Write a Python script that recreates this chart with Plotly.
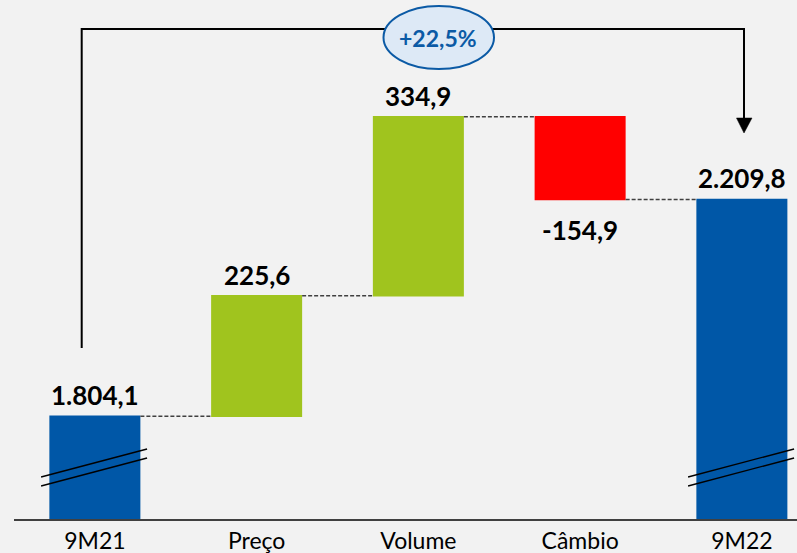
import plotly.graph_objects as go

categories = ["9M21", "Preço", "Volume", "Câmbio", "9M22"]
measures = ["absolute", "relative", "relative", "relative", "total"]
values = [1804.1, 225.6, 334.9, -154.9, 2209.8]
labels = ["1.804,1", "225,6", "334,9", "-154,9", "2.209,8"]
growth_label = "+22,5%"

BLUE = "#0057a7"
GREEN = "#a0c41e"
RED = "#ff0000"
BG = "#f2f2f2"
FONT = "Lato, 'Open Sans', sans-serif"

W, H = 797, 553
ML, MR, MT, MB = 14, 0, 0, 34
PW, PH = W - ML - MR, H - MT - MB
PITCH = 161.75
x_range = [-0.5, -0.5 + PW / PITCH]
y_range = [1611.8, 2583.0]


def px(xp):
    return (xp - ML) / PW


def py(yp):
    return 1 - (yp - MT) / PH


xs = list(range(len(categories)))

fig = go.Figure()
fig.add_trace(go.Waterfall(
    x=xs,
    y=[v if m != "total" else 0 for v, m in zip(values, measures)],
    measure=measures,
    width=[0.5626] * len(xs),
    increasing=dict(marker=dict(color=GREEN, line=dict(width=0))),
    decreasing=dict(marker=dict(color=RED, line=dict(width=0))),
    totals=dict(marker=dict(color=BLUE, line=dict(width=0))),
    connector=dict(line=dict(color="#404040", width=1.6, dash="4px,2px")),
    textinfo="none",
    hoverinfo="skip",
))

# value labels
cum = 0
annotations = []
for i, (m, v, lab) in enumerate(zip(measures, values, labels)):
    if m == "absolute":
        cum = v
    elif m == "relative":
        cum += v
    yv = cum
    if m == "relative" and v < 0:
        shift = -31
    else:
        shift = 21
    annotations.append(dict(
        x=i, y=yv, xref="x", yref="y", text="<b>%s</b>" % lab,
        showarrow=False, yanchor="middle", xanchor="center", yshift=shift,
        font=dict(family=FONT, size=26, color="#000000"),
    ))

shapes = []
# axis break marks on the two total bars
for i in (0, 4):
    for dy in (0, 9):
        shapes.append(dict(
            type="line", xref="x", yref="paper",
            x0=i - 53.8 / PITCH, x1=i + 52.2 / PITCH,
            y0=py(477 + dy), y1=py(449 + dy),
            line=dict(color="#000000", width=1.3),
        ))

# bracket with arrow
shapes.append(dict(
    type="path", xref="paper", yref="paper",
    path="M %f,%f L %f,%f L %f,%f L %f,%f" % (
        px(81.7), py(348), px(81.7), py(29), px(744), py(29), px(744), py(120)),
    line=dict(color="#000000", width=2),
))
shapes.append(dict(
    type="path", xref="paper", yref="paper",
    path="M %f,%f L %f,%f L %f,%f Z" % (
        px(736.5), py(118), px(752), py(118), px(744), py(133)),
    fillcolor="#000000", line=dict(color="#000000", width=0.5),
))
# ellipse
shapes.append(dict(
    type="circle", xref="paper", yref="paper",
    x0=px(383.5), x1=px(494), y0=py(69), y1=py(6),
    fillcolor="#dde9f6", line=dict(color="#0b5aa5", width=2),
))
annotations.append(dict(
    x=px(438), y=py(38), xref="paper", yref="paper",
    text="<b>%s</b>" % growth_label, showarrow=False,
    xanchor="center", yanchor="middle",
    font=dict(family=FONT, size=23, color="#0b5aa5"),
))

fig.update_layout(
    width=W, height=H,
    margin=dict(l=ML, r=MR, t=MT, b=MB, pad=0),
    paper_bgcolor=BG, plot_bgcolor=BG,
    showlegend=False,
    shapes=shapes,
    annotations=annotations,
    xaxis=dict(
        range=x_range, tickmode="array", tickvals=xs, ticktext=categories,
        showgrid=False, zeroline=False, showline=True, linecolor="#404040",
        linewidth=2, ticks="", tickfont=dict(family=FONT, size=23, color="#000000"),
        fixedrange=True,
    ),
    yaxis=dict(range=y_range, visible=False, showgrid=False, zeroline=False,
               fixedrange=True),
)

fig.write_html(
    "out.html",
    config={"displayModeBar": False},
    post_script="document.body.style.margin='0';document.body.style.overflow='hidden';document.body.style.background='#f2f2f2';",
)
